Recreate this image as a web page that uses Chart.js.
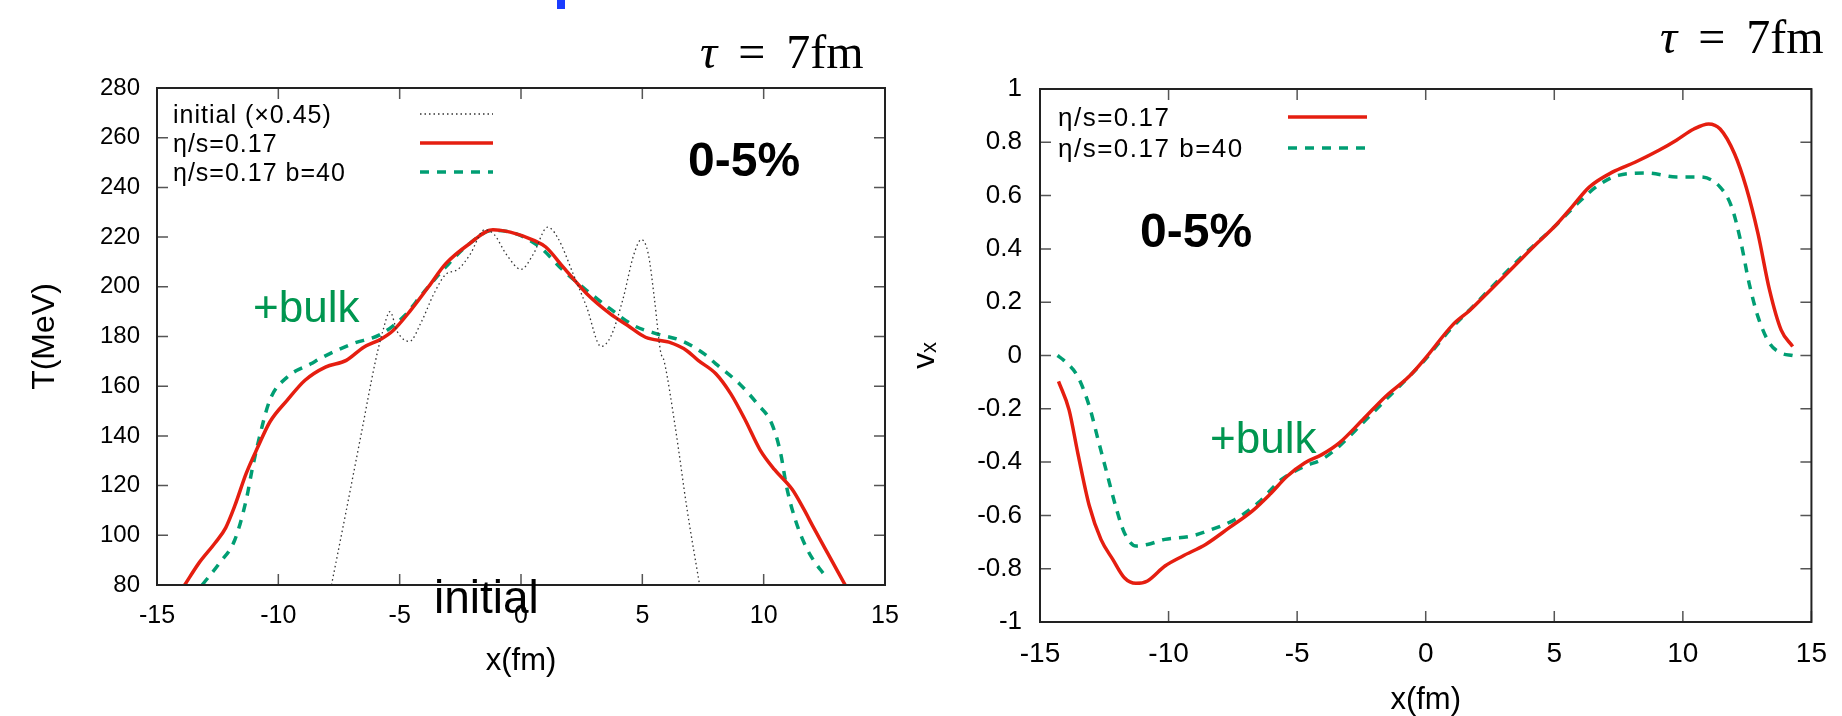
<!DOCTYPE html>
<html>
<head>
<meta charset="utf-8">
<script src="https://cdn.jsdelivr.net/npm/chart.js@4"></script>
<style>
  body { margin: 0; background: #fff; width: 1842px; height: 716px; overflow: hidden; position: relative; font-family: 'Liberation Sans', Arial, sans-serif; }
  canvas { position: absolute; top: 0; }
  #tempChart { left: 0; }
  #vxChart { left: 890px; }
  .note { position: absolute; line-height: 1; white-space: pre; }
  .tau { font-family: 'Liberation Serif', 'DejaVu Serif', serif; font-size: 48px; word-spacing: 9px; }
  .cent { font-weight: bold; font-size: 48px; }
  .bulk { color: #009650; font-size: 44px; }
</style>
</head>
<body>
<canvas id="tempChart" width="920" height="716"></canvas>
<canvas id="vxChart" width="952" height="716"></canvas>

<div class="note" style="left:557px;top:0;width:8px;height:9px;background:#1a3cff"></div>
<div class="note tau" style="left:700px;top:28px"><i>τ</i> = 7fm</div>
<div class="note tau" style="left:1660px;top:13px"><i>τ</i> = 7fm</div>
<div class="note cent" style="left:688px;top:136px">0-5%</div>
<div class="note cent" style="left:1140px;top:207px">0-5%</div>
<div class="note bulk" style="left:253px;top:285px">+bulk</div>
<div class="note bulk" style="left:1210px;top:416px">+bulk</div>
<div class="note" style="left:434px;top:574px;font-size:46px">initial</div>

<script>
// T profile at tau = 7 fm (left panel)
const initX = [-7.81, -7.2, -6.6, -6.0, -5.7, -5.4, -5.1, -4.6, -4.1, -3.6, -3.1, -2.6, -2.1, -1.5, -1.1, -0.6, 0, 0.5, 1.1, 1.5, 2.2, 2.7, 3.3, 3.7, 4.2, 4.65, 4.96, 5.25, 5.5, 5.75, 5.9, 6.35, 6.85, 7.36];
const initT = [80, 110, 140, 170, 182, 190, 182, 178, 186, 197, 205, 207, 213, 223, 221, 213, 207, 213, 224, 220, 204, 192, 176, 180, 195, 213, 219, 213, 195, 174, 170, 144, 110, 80];

const visX = [-13.86, -13.26, -12.6, -12.17, -11.8, -11.32, -10.84, -10.35, -9.63, -8.9, -8.06, -7.2, -6.48, -5.76, -5.27, -4.55, -3.82, -3.1, -2.13, -1.16, -0.44, 0.53, 1.02, 1.74, 2.71, 3.68, 4.4, 5.13, 6.1, 6.82, 7.3, 8.03, 8.64, 9.24, 9.85, 10.45, 11.18, 11.66, 12.03, 12.63, 13.36];
const visT = [80, 89, 97, 103, 111.7, 125, 135.6, 145.6, 154.4, 162.4, 167.7, 170.4, 175.7, 179, 182.4, 190.5, 199.9, 209.3, 217.3, 223, 222, 218.7, 216, 207.9, 197.2, 189.1, 184.4, 179.7, 177.7, 174.4, 170.4, 165, 157, 146.4, 134.4, 126.4, 118.4, 110.4, 103.6, 92.9, 80];

const bulkX = [-13.14, -12.41, -11.8, -11.32, -11.08, -10.84, -10.35, -9.63, -8.66, -8.17, -6.97, -5.76, -4.79, -4.06, -3.1, -2.13, -1.16, -0.19, 0.77, 1.74, 2.71, 3.68, 4.65, 5.62, 6.59, 7.55, 8.03, 9.0, 9.73, 10.33, 10.7, 10.94, 11.3, 11.79, 12.63];
const bulkT = [80, 89, 98, 114.4, 126.4, 137, 154.4, 163.7, 169, 171.7, 177, 181, 188.5, 197.2, 208, 217.3, 222.7, 221.3, 216, 206.6, 198.5, 191.1, 184.4, 181, 178.4, 173, 169, 161, 153, 145, 133, 119.7, 106.4, 94.4, 82.3];

// v_x profile (right panel)
const vxVisX = [-14.28, -13.87, -13.53, -13.08, -12.63, -12.17, -11.72, -11.27, -10.82, -10.14, -9.46, -8.56, -7.65, -6.75, -6.07, -5.39, -4.71, -4.04, -3.36, -2.45, -1.55, -0.65, 0.03, 1.05, 1.72, 2.52, 3.42, 4.32, 5.0, 5.68, 6.36, 7.26, 8.16, 9.07, 9.75, 10.43, 11.0, 11.45, 12.01, 12.46, 12.92, 13.37, 13.82, 14.27];
const vxVis = [-0.097, -0.204, -0.366, -0.565, -0.69, -0.765, -0.834, -0.855, -0.846, -0.79, -0.753, -0.709, -0.647, -0.584, -0.522, -0.453, -0.403, -0.372, -0.328, -0.241, -0.153, -0.079, -0.005, 0.115, 0.17, 0.246, 0.333, 0.42, 0.483, 0.557, 0.632, 0.688, 0.726, 0.77, 0.808, 0.85, 0.869, 0.85, 0.757, 0.632, 0.458, 0.246, 0.096, 0.034];

const vxBulkX = [-14.32, -14.1, -13.53, -13.08, -12.74, -12.4, -12.06, -11.72, -11.27, -10.82, -10.14, -9.12, -8.33, -7.43, -6.52, -5.62, -4.71, -4.04, -3.36, -2.45, -1.55, -0.65, -0.08, 0.94, 1.83, 2.96, 3.87, 5.0, 5.9, 6.7, 7.49, 8.62, 9.75, 10.66, 11.45, 11.9, 12.24, 12.58, 12.92, 13.37, 13.82, 14.27];
const vxBulk = [0, -0.016, -0.079, -0.191, -0.316, -0.441, -0.565, -0.665, -0.715, -0.709, -0.69, -0.678, -0.653, -0.616, -0.553, -0.466, -0.416, -0.39, -0.34, -0.253, -0.166, -0.079, -0.022, 0.096, 0.183, 0.296, 0.383, 0.483, 0.57, 0.638, 0.676, 0.685, 0.67, 0.67, 0.632, 0.557, 0.433, 0.27, 0.146, 0.046, 0.009, 0];

const seriesLabels = ['initial (×0.45)', 'η/s=0.17', 'η/s=0.17 b=40'];

Chart.defaults.font.family = "'Liberation Sans', 'DejaVu Sans', sans-serif";
Chart.defaults.color = '#000';

// tick labels in the picture are a bit tall and narrow: use the narrow cut if it is there
function fontExists(name) {
    const c = document.createElement('canvas').getContext('2d');
    c.font = '40px monospace';
    const w0 = c.measureText('mmmlli0.45-15').width;
    c.font = "40px '" + name + "', monospace";
    return c.measureText('mmmlli0.45-15').width !== w0;
}
const narrow = fontExists('Liberation Sans Narrow');
const tickFamily = narrow ? "'Liberation Sans Narrow', 'Liberation Sans', sans-serif" : "'Liberation Sans', sans-serif";
const k = narrow ? 1.17 : 1.04;
function tickFont(size) {
    return { family: tickFamily, size: Math.round(size * k) };
}

function pairs(xs, ys) {
    return xs.map((x, i) => ({ x: x, y: ys[i] }));
}

// gnuplot style box with inward ticks on all four sides
const framePlugin = {
    id: 'frame',
    afterDatasetsDraw(chart) {
        const { ctx, chartArea: a, scales } = chart;
        ctx.save();
        ctx.strokeStyle = '#555';
        ctx.lineWidth = 1.5;
        ctx.beginPath();
        scales.x.ticks.forEach(t => {
            const px = scales.x.getPixelForValue(t.value);
            ctx.moveTo(px, a.bottom); ctx.lineTo(px, a.bottom - 11);
            ctx.moveTo(px, a.top); ctx.lineTo(px, a.top + 11);
        });
        scales.y.ticks.forEach(t => {
            const py = scales.y.getPixelForValue(t.value);
            ctx.moveTo(a.left, py); ctx.lineTo(a.left + 11, py);
            ctx.moveTo(a.right, py); ctx.lineTo(a.right - 11, py);
        });
        ctx.stroke();
        ctx.strokeStyle = '#222';
        ctx.lineWidth = 2;
        ctx.strokeRect(a.left, a.top, a.right - a.left, a.bottom - a.top);
        ctx.restore();
    }
};

// key with text on the left and the line sample on the right
const keyPlugin = {
    id: 'key',
    afterDraw(chart, args, opts) {
        const ctx = chart.ctx;
        ctx.save();
        ctx.font = opts.font;
        ctx.letterSpacing = opts.spacing;
        ctx.fillStyle = '#000';
        ctx.textBaseline = 'middle';
        chart.data.datasets.forEach((ds, i) => {
            const y = opts.rows[i];
            ctx.fillText(ds.label, opts.textX, y + 2);
            ctx.strokeStyle = ds.borderColor;
            ctx.lineWidth = ds.borderWidth;
            ctx.setLineDash(ds.borderDash || []);
            ctx.beginPath();
            ctx.moveTo(opts.lineX0, y);
            ctx.lineTo(opts.lineX1, y);
            ctx.stroke();
        });
        ctx.restore();
    }
};

const tempConfig = {
    type: 'line',
    data: {
        datasets: [{
            label: seriesLabels[0],
            data: pairs(initX, initT),
            borderColor: '#333',
            borderWidth: 1.3,
            borderDash: [1.5, 3],
        },
        {
            label: seriesLabels[1],
            data: pairs(visX, visT),
            borderColor: '#e51e10',
            borderWidth: 3.5,
        },
        {
            label: seriesLabels[2],
            data: pairs(bulkX, bulkT),
            borderColor: '#009e73',
            borderWidth: 3.5,
            borderDash: [9, 8],
        }]
    },
    options: {
        responsive: false,
        animation: false,
        layout: { padding: { top: 88, right: 35, left: 0, bottom: 0 } },
        elements: {
            point: { radius: 0 },
            line: { cubicInterpolationMode: 'monotone', fill: false }
        },
        plugins: {
            legend: { display: false },
            tooltip: { enabled: false },
            key: { font: "25px 'Liberation Sans', 'DejaVu Sans', sans-serif", spacing: '1px', textX: 173, lineX0: 420, lineX1: 493, rows: [114, 143, 172] }
        },
        scales: {
            x: {
                type: 'linear',
                min: -15,
                max: 15,
                afterFit: s => { s.height = 131; },
                grid: { display: false, drawTicks: false },
                border: { display: false },
                ticks: { stepSize: 5, padding: 16, font: tickFont(24), callback: v => String(v) },
                title: { display: true, text: 'x(fm)', font: { size: 31, lineHeight: 1 }, padding: { top: 0, bottom: 39 } }
            },
            y: {
                min: 80,
                max: 280,
                afterFit: s => { s.width = 157; },
                grid: { display: false, drawTicks: false },
                border: { display: false },
                ticks: { stepSize: 20, padding: 17, font: tickFont(23), callback: v => String(v) },
                title: { display: true, text: 'T(MeV)', font: { size: 32, lineHeight: 1 }, padding: { top: 29, bottom: 0 } }
            }
        }
    },
    plugins: [framePlugin, keyPlugin]
};

const vxConfig = {
    type: 'line',
    data: {
        datasets: [{
            label: seriesLabels[1],
            data: pairs(vxVisX, vxVis),
            borderColor: '#e51e10',
            borderWidth: 3.5,
        },
        {
            label: seriesLabels[2],
            data: pairs(vxBulkX, vxBulk),
            borderColor: '#009e73',
            borderWidth: 3.5,
            borderDash: [9, 8],
        }]
    },
    options: {
        responsive: false,
        animation: false,
        layout: { padding: { top: 89, right: 21, left: 0, bottom: 0 } },
        elements: {
            point: { radius: 0 },
            line: { cubicInterpolationMode: 'monotone', fill: false }
        },
        plugins: {
            legend: { display: false },
            tooltip: { enabled: false },
            key: { font: "26px 'Liberation Sans', 'DejaVu Sans', sans-serif", spacing: '1.5px', textX: 168, lineX0: 398, lineX1: 477, rows: [117, 148] }
        },
        scales: {
            x: {
                type: 'linear',
                min: -15,
                max: 15,
                afterFit: s => { s.height = 94; },
                grid: { display: false, drawTicks: false },
                border: { display: false },
                ticks: { stepSize: 5, padding: 15, font: tickFont(27), callback: v => String(v) },
                title: { display: true, text: 'x(fm)', font: { size: 31, lineHeight: 1 }, padding: { top: 0, bottom: 0 } }
            },
            y: {
                min: -1,
                max: 1,
                afterFit: s => { s.width = 150; },
                grid: { display: false, drawTicks: false },
                border: { display: false },
                ticks: { stepSize: 0.2, padding: 18, font: tickFont(25), callback: v => String(Math.round(v * 10) / 10) },
                title: { display: true, text: 'vₓ', font: { size: 32, lineHeight: 1 }, padding: { top: 19, bottom: 0 } }
            }
        }
    },
    plugins: [framePlugin, keyPlugin]
};

new Chart(document.getElementById('tempChart'), tempConfig);
new Chart(document.getElementById('vxChart'), vxConfig);
</script>
</body>
</html>
